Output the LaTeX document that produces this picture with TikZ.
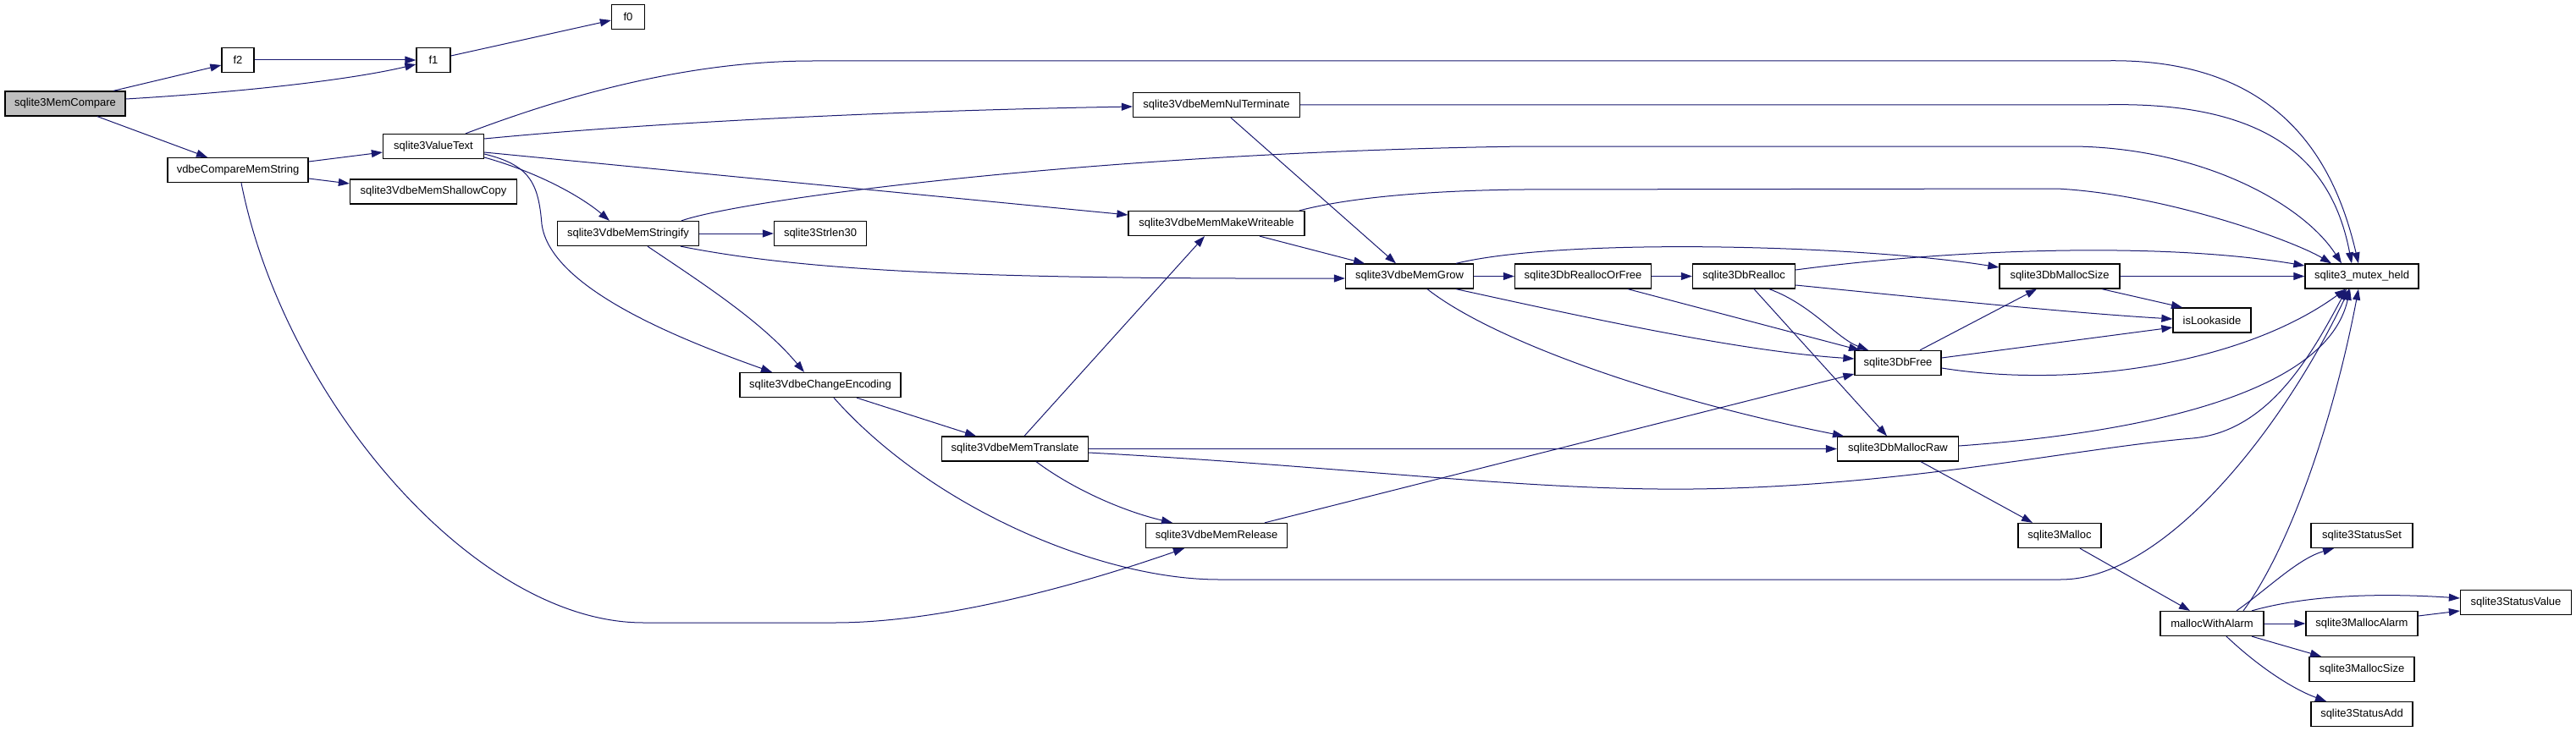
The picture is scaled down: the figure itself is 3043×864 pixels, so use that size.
\documentclass[tikz,border=0pt]{standalone}
\usepackage{fontspec}
\setmainfont{Liberation Sans}
\usetikzlibrary{arrows.meta}
\definecolor{edgec}{HTML}{191970}
\definecolor{rootfill}{HTML}{BFBFBF}
\tikzset{
  box/.style={draw=black, fill=white, line width=1.3pt, minimum height=29pt, inner sep=0pt,
    font=\fontsize{13pt}{15pt}\selectfont},
  rootbox/.style={box, fill=rootfill},
  e/.style={draw=edgec, line width=1pt, -{Triangle[length=13pt,width=9pt]}}
}
\begin{document}
\begin{tikzpicture}[x=1pt,y=-1pt]
\fill[white] (0,0) rectangle (3043,864);
\useasboundingbox (0,0) rectangle (3043,864);
% nodes
\node[rootbox, minimum width=142pt] (A) at (77,122.5) {sqlite3MemCompare};
\node[box, minimum width=38pt] (f2) at (281,71) {f2};
\node[box, minimum width=40pt] (f1) at (512,71) {f1};
\node[box, minimum width=39pt] (f0) at (742,20) {f0};
\node[box, minimum width=166pt] (vcms) at (281,201) {vdbeCompareMemString};
\node[box, minimum width=119pt] (vt) at (512,173) {sqlite3ValueText};
\node[box, minimum width=197pt] (sc) at (512,226.5) {sqlite3VdbeMemShallowCopy};
\node[box, minimum width=167pt] (str) at (742,276) {sqlite3VdbeMemStringify};
\node[box, minimum width=109pt] (sl) at (969,276) {sqlite3Strlen30};
\node[box, minimum width=190pt] (ce) at (969,455) {sqlite3VdbeChangeEncoding};
\node[box, minimum width=173pt] (mt) at (1199,530.5) {sqlite3VdbeMemTranslate};
\node[box, minimum width=197pt] (nt) at (1437,124) {sqlite3VdbeMemNulTerminate};
\node[box, minimum width=208pt] (mw) at (1437,264) {sqlite3VdbeMemMakeWriteable};
\node[box, minimum width=167pt] (mr) at (1437,633) {sqlite3VdbeMemRelease};
\node[box, minimum width=151pt] (mg) at (1665,326.5) {sqlite3VdbeMemGrow};
\node[box, minimum width=161pt] (rof) at (1870,326.5) {sqlite3DbReallocOrFree};
\node[box, minimum width=121pt] (dr) at (2060,326.5) {sqlite3DbRealloc};
\node[box, minimum width=102pt] (df) at (2242,429) {sqlite3DbFree};
\node[box, minimum width=143pt] (dmr) at (2242,530.5) {sqlite3DbMallocRaw};
\node[box, minimum width=142pt] (dms) at (2433,326.5) {sqlite3DbMallocSize};
\node[box, minimum width=98pt] (ml) at (2433,633) {sqlite3Malloc};
\node[box, minimum width=92pt] (il) at (2613,378.5) {isLookaside};
\node[box, minimum width=122pt] (mwa) at (2613,737) {mallocWithAlarm};
\node[box, minimum width=134pt] (mh) at (2790,326.5) {sqlite3\_mutex\_held};
\node[box, minimum width=120pt] (ss) at (2790,633) {sqlite3StatusSet};
\node[box, minimum width=132pt] (ma) at (2790,737) {sqlite3MallocAlarm};
\node[box, minimum width=124pt] (ms) at (2790,791) {sqlite3MallocSize};
\node[box, minimum width=120pt] (sa) at (2790,844) {sqlite3StatusAdd};
\node[box, minimum width=131pt] (sv) at (2972,712) {sqlite3StatusValue};
% edges
\draw[e] (A.north -| 134,0) -- (f2.west |- 0,77);
\draw[e] (A.east |- 0,117) .. controls (300,108) and (420,93) .. (f1.west |- 0,76);
\draw[e] (A.south -| 115,0) -- (vcms.north -| 245,0);
\draw[e] (f2) -- (f1);
\draw[e] (f1.east |- 0,66) -- (f0.west |- 0,24);
\draw[e] (vcms.east |- 0,191) -- (vt.west |- 0,180);
\draw[e] (vcms.east |- 0,211) -- (sc.west |- 0,217);
\draw[e] (vcms.south -| 285,0) .. controls (335,470) and (560,736) .. (760,736) -- (986,736) .. controls (1100,736) and (1250,700) .. (mr.south -| 1399,0);
\draw[e] (vt.north -| 550,0) .. controls (650,120) and (800,72) .. (960,72) -- (2480,72) .. controls (2700,65) and (2760,200) .. (mh.north -| 2786,0);
\draw[e] (vt.east |- 0,164) .. controls (800,142) and (1100,130) .. (nt.west |- 0,126);
\draw[e] (vt.east |- 0,180) -- (mw.west |- 0,254);
\draw[e] (vt.east |- 0,186) .. controls (640,205) and (690,235) .. (str.north -| 720,0);
\draw[e] (vt.east |- 0,182) .. controls (625,195) and (636,215) .. (640,265) .. controls (650,340) and (800,400) .. (ce.north -| 912,0);
\draw[e] (nt.east) -- (2480,124) .. controls (2680,118) and (2755,190) .. (mh.north -| 2778,0);
\draw[e] (nt.south -| 1454,0) -- (mg.north -| 1649,0);
\draw[e] (str.north -| 805,0) .. controls (880,235) and (1300,180) .. (1800,173) -- (2450,173) .. controls (2600,175) and (2720,240) .. (mh.north -| 2766,0);
\draw[e] (str) -- (sl);
\draw[e] (str.south -| 804,0) .. controls (950,320) and (1150,330) .. (mg.west |- 0,329);
\draw[e] (str.south -| 765,0) .. controls (830,335) and (900,380) .. (ce.north -| 950,0);
\draw[e] (mw.north -| 1535,0) .. controls (1600,232) and (1700,225) .. (1800,224) -- (2430,223) .. controls (2560,230) and (2710,285) .. (mh.north -| 2754,0);
\draw[e] (mw.south -| 1488,0) -- (mg.north -| 1612,0);
\draw[e] (ce.south -| 1012,0) -- (mt.north -| 1153,0);
\draw[e] (ce.south -| 985,0) .. controls (1100,600) and (1300,685) .. (1440,685) -- (2434,685) .. controls (2560,685) and (2700,500) .. (mh.south -| 2775,0);
\draw[e] (mt.north -| 1210,0) -- (mw.south -| 1423,0);
\draw[e] (mt.south -| 1224,0) .. controls (1270,580) and (1330,605) .. (mr.north -| 1385,0);
\draw[e] (mt) -- (dmr);
\draw[e] (mt.east |- 0,535) .. controls (1600,552) and (1800,580) .. (2000,578) .. controls (2250,575) and (2450,530) .. (2590,518) .. controls (2680,510) and (2730,420) .. (mh.south -| 2772,0);
\draw[e] (mr.north -| 1494,0) -- (df.west |- 0,442);
\draw[e] (mg) -- (rof);
\draw[e] (mg.north -| 1720,0) .. controls (1850,280) and (2200,290) .. (dms.west |- 0,316);
\draw[e] (mg.south -| 1720,0) .. controls (1850,370) and (2050,415) .. (df.west |- 0,424);
\draw[e] (mg.south -| 1686,0) .. controls (1760,400) and (1950,470) .. (dmr.north -| 2178,0);
\draw[e] (rof) -- (dr);
\draw[e] (rof.south -| 1923,0) -- (df.north -| 2197,0);
\draw[e] (dr.east |- 0,319) .. controls (2300,295) and (2550,285) .. (mh.west |- 0,314);
\draw[e] (dr.east |- 0,337) .. controls (2300,355) and (2450,370) .. (il.west |- 0,377);
\draw[e] (dr.south -| 2090,0) .. controls (2140,360) and (2170,400) .. (df.north -| 2207,0);
\draw[e] (dr.south -| 2072,0) -- (dmr.north -| 2229,0);
\draw[e] (dms) -- (mh);
\draw[e] (dms.south -| 2483,0) -- (il.north -| 2578,0);
\draw[e] (df.north -| 2268,0) -- (dms.south -| 2406,0);
\draw[e] (df.east |- 0,423) -- (il.west |- 0,387);
\draw[e] (df.east |- 0,435) .. controls (2450,460) and (2650,430) .. (mh.south -| 2771,0);
\draw[e] (dmr.east |- 0,527) .. controls (2550,510) and (2750,460) .. (mh.south -| 2776,0);
\draw[e] (dmr.south -| 2269,0) -- (ml.north -| 2401,0);
\draw[e] (ml.south -| 2457,0) -- (mwa.north -| 2587,0);
\draw[e] (mwa.north -| 2650,0) .. controls (2710,640) and (2760,480) .. (mh.south -| 2786,0);
\draw[e] (mwa.north -| 2642,0) .. controls (2680,695) and (2715,660) .. (ss.south -| 2757,0);
\draw[e] (mwa.north -| 2660,0) .. controls (2720,705) and (2800,700) .. (sv.west |- 0,707);
\draw[e] (mwa) -- (ma);
\draw[e] (mwa.south -| 2660,0) -- (ms.north -| 2742,0);
\draw[e] (mwa.south -| 2630,0) .. controls (2670,790) and (2710,815) .. (sa.north -| 2748,0);
\draw[e] (ma.east |- 0,728) -- (sv.west |- 0,722);
\end{tikzpicture}
\end{document}
